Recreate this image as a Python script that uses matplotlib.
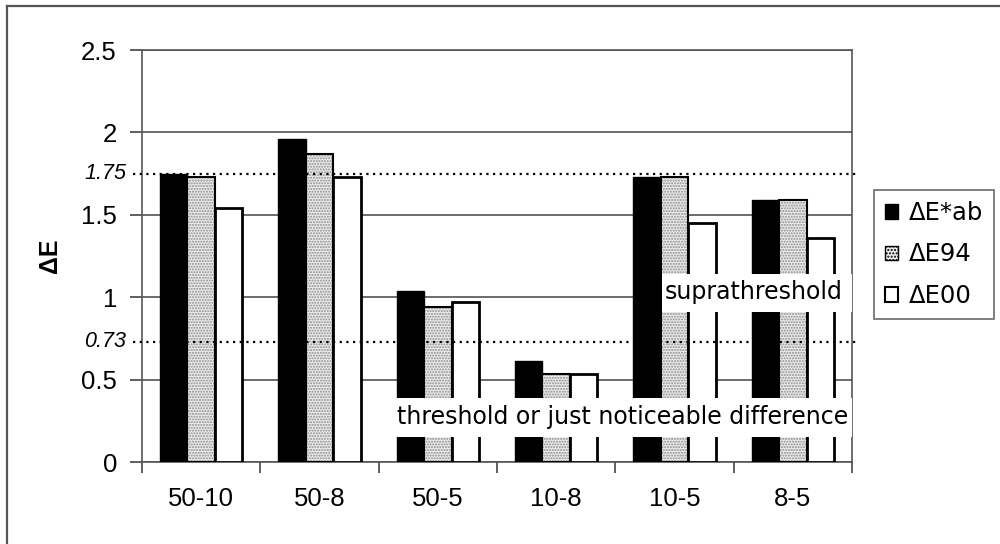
import numpy as np
import matplotlib
matplotlib.use('Agg')
import matplotlib.pyplot as plt
from matplotlib.patches import Patch, Rectangle
from matplotlib.lines import Line2D
import matplotlib.transforms as mtransforms

pairs = ['50-10', '50-8', '50-5', '10-8', '10-5', '8-5']
de_ab = [1.75, 1.96, 1.04, 0.61, 1.73, 1.59]
de_94 = [1.73, 1.87, 0.94, 0.535, 1.73, 1.59]
de_00 = [1.54, 1.73, 0.97, 0.535, 1.45, 1.36]
series_names = ['\u0394E*ab', '\u0394E94', '\u0394E00']
thresholds = [1.75, 0.73]
threshold_labels = ['1.75', '0.73']
yticks = [0, 0.5, 1, 1.5, 2, 2.5]

tick_font = 'Liberation Sans'
note_font = 'DejaVu Sans'

fig = plt.figure(figsize=(10, 5.44), dpi=100)
ax = fig.add_axes([0.142, 0.1507, 0.71, 0.7573])

x = np.arange(len(pairs))
w = 0.231

ax.bar(x - w, de_ab, w, color='black', edgecolor='black', linewidth=1, zorder=3)
ax.bar(x, de_94, w, color='#ececec', edgecolor='#8c8c8c', hatch='......', linewidth=0, zorder=3)
ax.bar(x, de_94, w, fill=False, edgecolor='black', linewidth=1.5, zorder=3)
ax.bar(x + w, de_00, w, color='white', edgecolor='black', linewidth=2, zorder=3)

ax.set_xlim(-0.5, len(pairs) - 0.5)
ax.set_ylim(0, 2.5)
ax.set_yticks(yticks)
ax.set_yticklabels(['0', '0.5', '1', '1.5', '2', '2.5'], fontfamily=tick_font, fontsize=18.5)
ax.yaxis.grid(True, color='#444444', linewidth=1.1, zorder=0)
ax.set_axisbelow(True)

ax.set_xticks(x)
ax.set_xticklabels(pairs, fontfamily=tick_font, fontsize=18.5)
ax.set_xticks(np.arange(len(pairs) + 1) - 0.5, minor=True)
ax.tick_params(axis='x', which='major', length=0, pad=18)
ax.tick_params(axis='x', which='minor', length=8, width=1.2, color='#444444', direction='out')
ax.tick_params(axis='y', length=9, width=1.2, color='#444444', direction='out', pad=9)

for s in ax.spines.values():
    s.set_color('#555555')
    s.set_linewidth(1.2)

ax.set_ylabel('\u0394E', fontfamily=tick_font, fontsize=18, fontweight='bold', labelpad=14)

# dotted threshold lines reaching a little past the axes
trans = mtransforms.blended_transform_factory(ax.transAxes, ax.transData)
for t, lab in zip(thresholds, threshold_labels):
    ax.plot([-0.0127, 1.0085], [t, t], transform=trans, color='black', linestyle=(0, (1, 2)),
            linewidth=1.6, clip_on=False, zorder=5)
    ax.text(-0.022, t, lab, transform=trans, ha='right', va='center', fontfamily=tick_font,
            fontsize=15.5, fontstyle='italic')

# white label boxes over the bars
ax.add_patch(Rectangle((1.647, 0.152), 5.5 - 1.647, 0.237, facecolor='white', edgecolor='none', zorder=4))
ax.add_patch(Rectangle((3.894, 0.912), 5.5 - 3.894, 0.232, facecolor='white', edgecolor='none', zorder=4))
ax.text(3.565, 0.274, 'threshold or just noticeable difference', ha='center', va='center',
        fontfamily=note_font, fontsize=17, zorder=6)
ax.text(4.672, 1.034, 'suprathreshold', ha='center', va='center',
        fontfamily=note_font, fontsize=17, zorder=6)

handles = [Patch(facecolor='black', edgecolor='black'),
           Patch(facecolor='#ececec', edgecolor='black', hatch='.....'),
           Patch(facecolor='white', edgecolor='black', linewidth=1.5)]
leg = fig.legend(handles, series_names, loc='upper left', bbox_to_anchor=(0.874, 1 - 190 / 544),
                 bbox_transform=fig.transFigure, borderaxespad=0, frameon=True, fancybox=False,
                 handlelength=0.54, handleheight=0.54, handletextpad=0.45, labelspacing=0.72,
                 borderpad=0.45, prop={'family': note_font, 'size': 17.5})
leg.get_frame().set_edgecolor('#444444')
leg.get_frame().set_linewidth(1.2)

# outer chart frame (only left and top edges fall inside the picture)
fig.add_artist(Line2D([0.007, 0.007], [0, 0.989], color='#555555', linewidth=1.6))
fig.add_artist(Line2D([0.007, 1.0], [0.989, 0.989], color='#555555', linewidth=1.6))

fig.savefig('out.png', dpi=100)
